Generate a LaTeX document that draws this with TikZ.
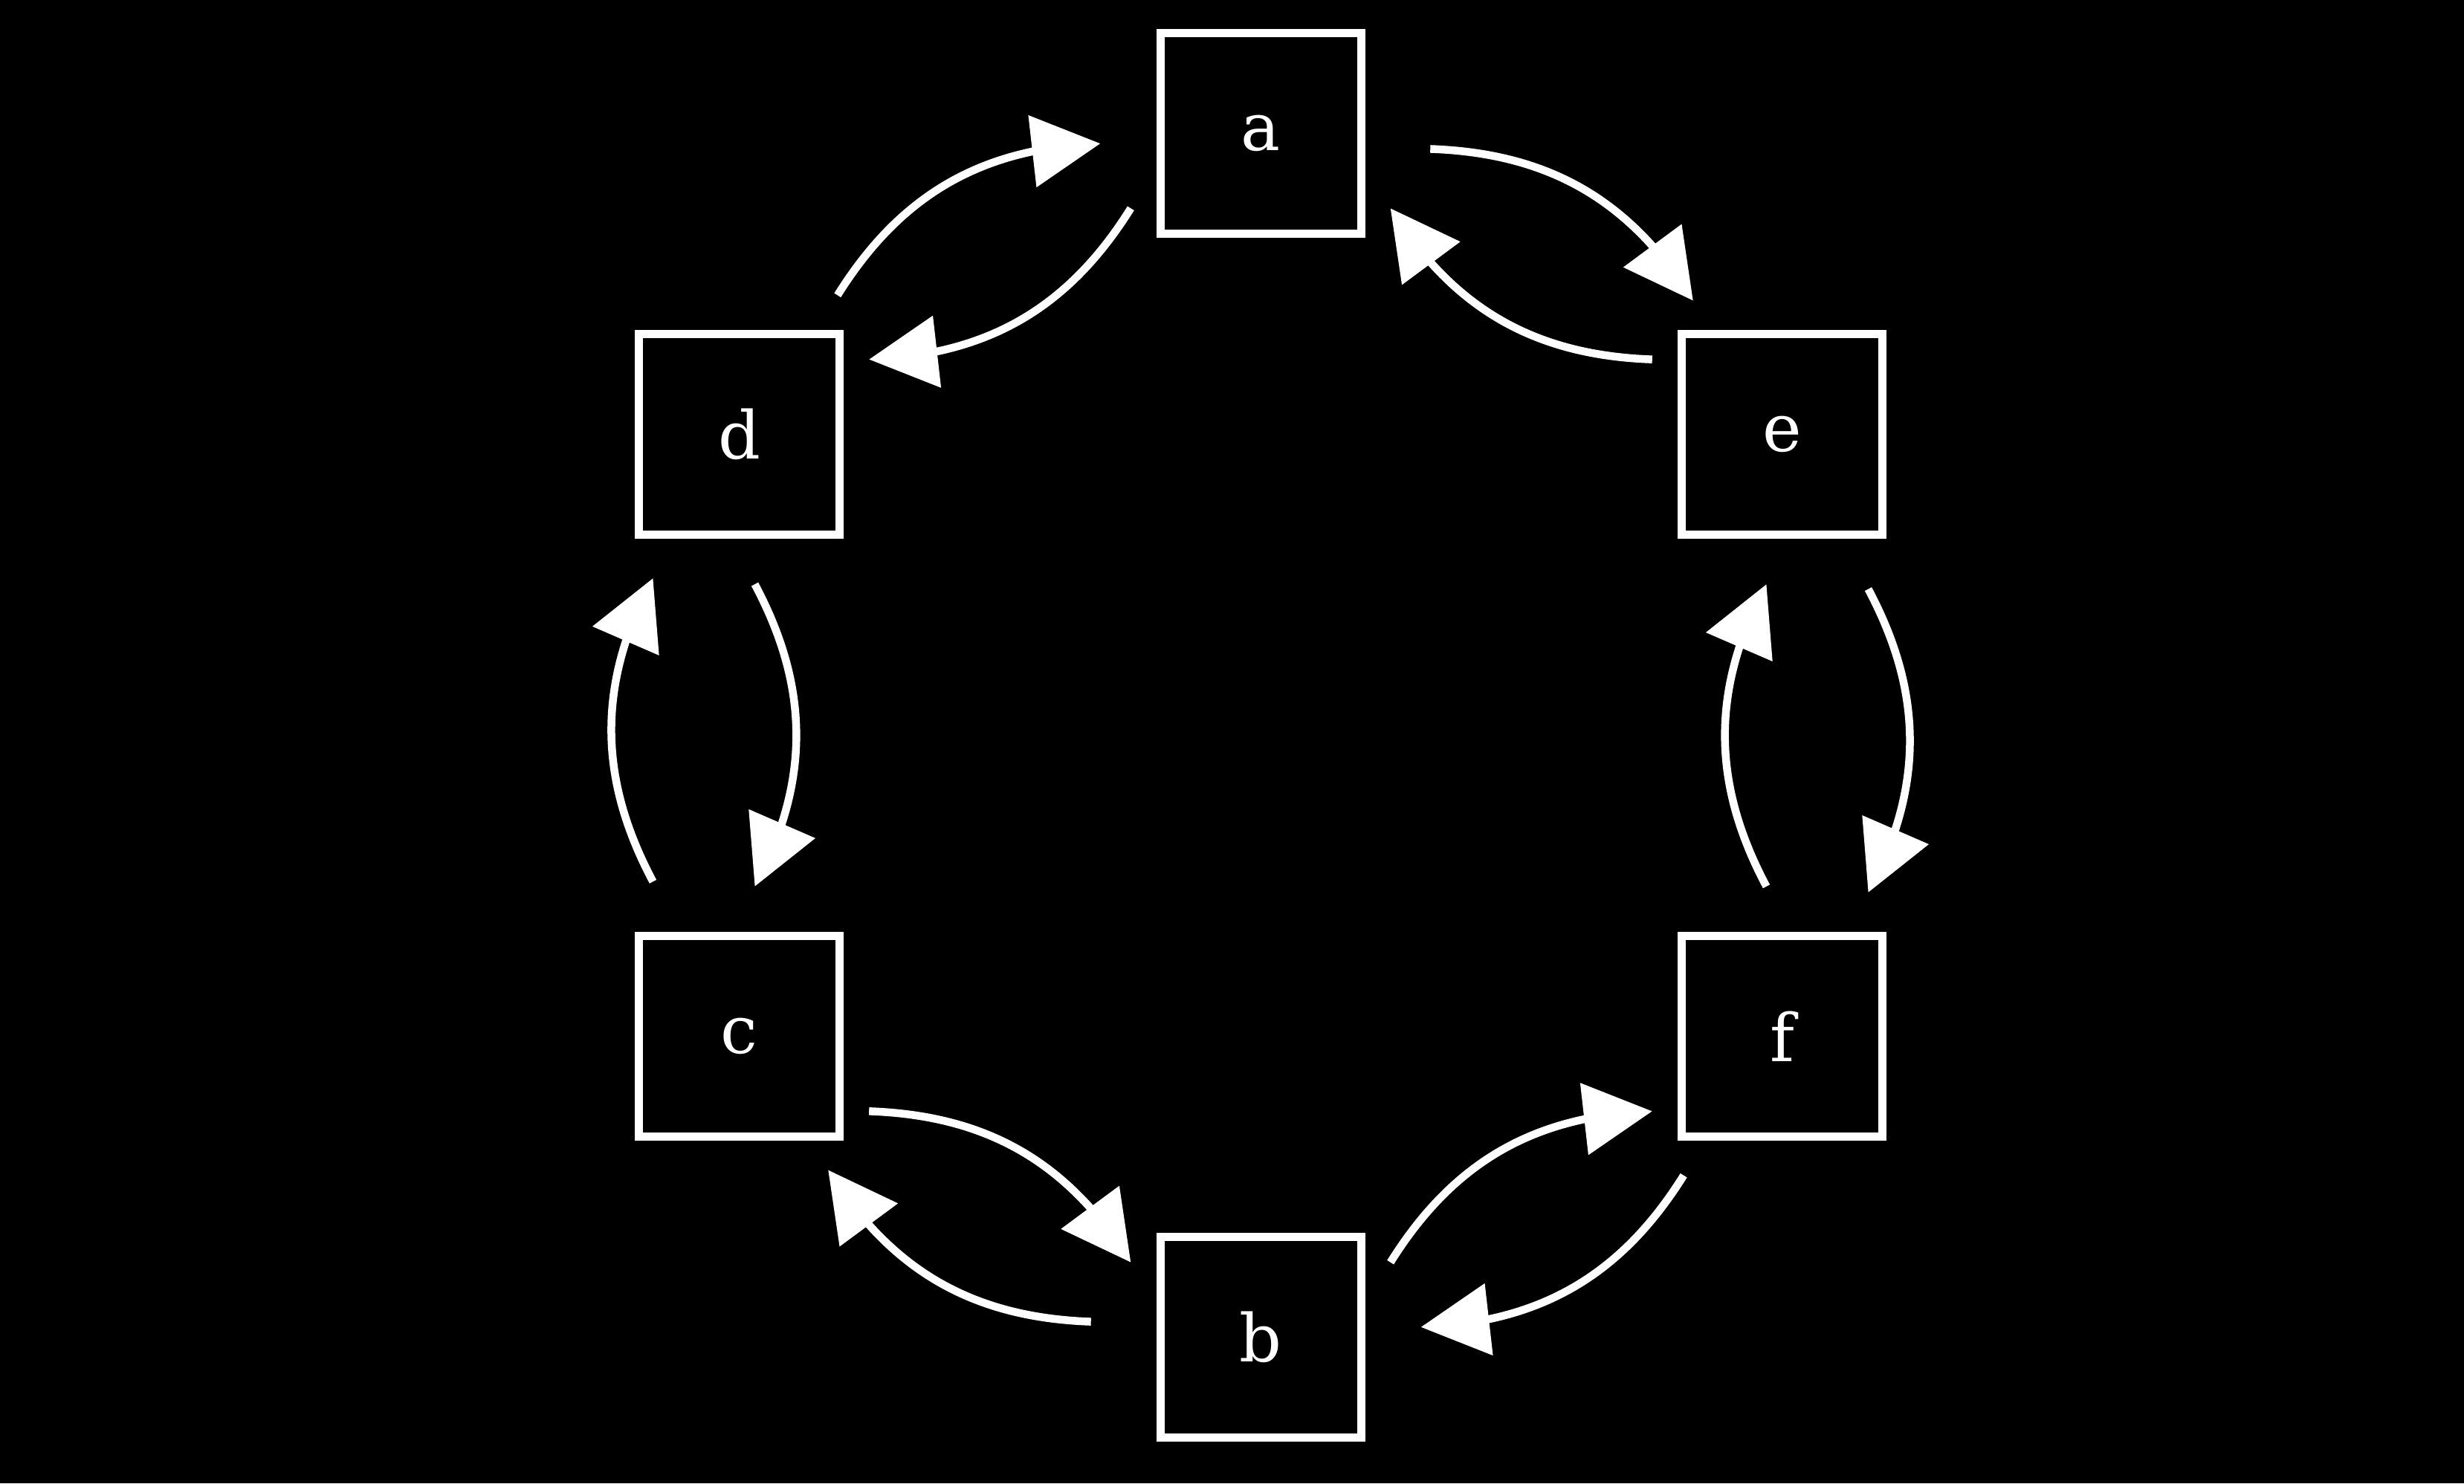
\documentclass[tikz,border=0pt]{standalone}
\usepackage{fontspec}
\setmainfont{DejaVu Serif}
\usetikzlibrary{calc,arrows.meta,bending}

\begin{document}
\begin{tikzpicture}[scale=1.0,
  box/.style={draw=white,line width=1.1mm,minimum size=2.7cm,inner sep=0pt,text=white,font=\fontsize{25.3}{30}\selectfont},
  edge/.style={white,line width=1.05mm,-{Triangle[length=9.2mm,width=9.5mm,flex]}}]
% Background
\fill[black] (-16.96,-10.065) rectangle (16.19,9.895);
\useasboundingbox (-16.96,-10.065) rectangle (16.19,9.895);

% States on a ring
\node[box] (a) at (90:8.1) {a};
\node[box] (e) at (30:8.1) {e};
\node[box] (f) at (-30:8.1) {f};
\node[box] (b) at (-90:8.1) {b};
\node[box] (c) at (210:8.1) {c};
\node[box] (d) at (150:8.1) {d};

% Transitions: outer arc clockwise, inner arc back
\foreach \src/\dst/\vo/\vi in {a/e/0.96cm/0cm, e/f/1.16cm/0.21cm, f/b/0.96cm/0cm, b/c/0.96cm/0cm, c/d/1.16cm/0.21cm, d/a/0.96cm/0cm} {
  \draw[edge] ($(\src)!0.257!(\dst)!\vo!90:(\dst)$) to[bend left=28] ($(\src)!0.761!(\dst)!\vo!90:(\dst)$);
  \draw[edge] ($(\dst)!0.249!(\src)!\vi!90:(\src)$) to[bend left=28] ($(\dst)!0.751!(\src)!\vi!90:(\src)$);
}
\end{tikzpicture}
\end{document}
